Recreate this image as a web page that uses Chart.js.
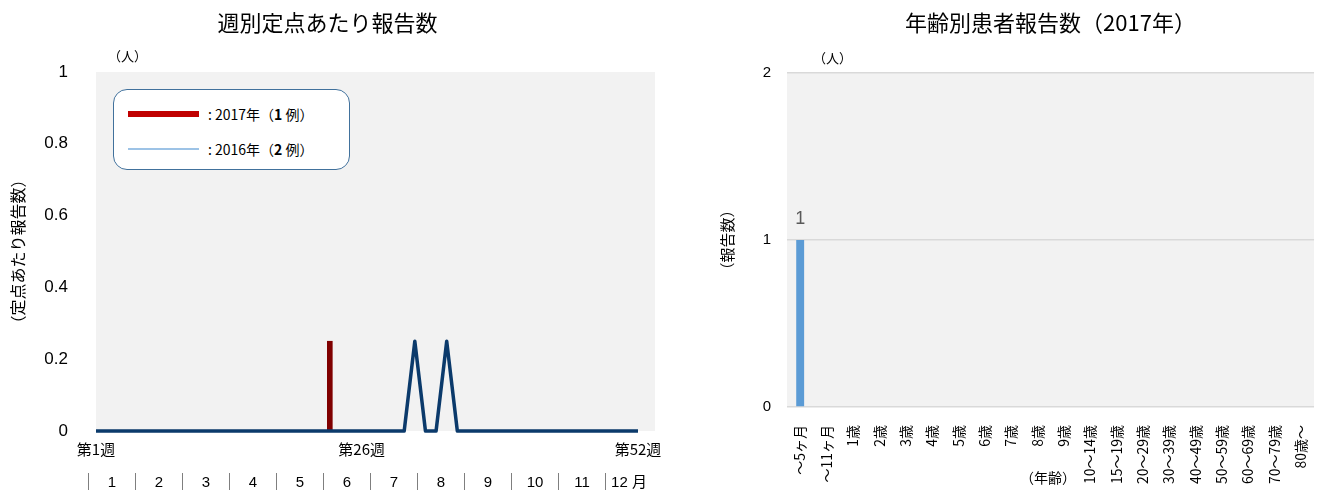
<!DOCTYPE html>
<html>
<head>
<meta charset="utf-8">
<script src="https://cdn.jsdelivr.net/npm/chart.js@4.4.0/dist/chart.umd.min.js"></script>
<style>
  body { margin: 0; background: #fff; font-family: "Noto Sans CJK JP", sans-serif; }
  #wrap { position: relative; width: 1328px; height: 490px; overflow: hidden; }
  .box { position: absolute; top: 0; height: 490px; }
  .txt { position: absolute; font-size: 13px; color: #000; white-space: nowrap; }
  #legend { position: absolute; left: 113px; top: 89px; width: 235px; height: 79px;
            border: 1.5px solid #41719c; border-radius: 14px; background: #fff; }
  .lrow { position: absolute; left: 14px; height: 16px; font-size: 14px; }
  .lrow span.sw { position: absolute; left: 0; width: 71px; }
  .lrow span.t { position: absolute; left: 80px; top: -4px; white-space: nowrap; }
  #months { position: absolute; left: 88px; top: 473px; display: flex; font-size: 15px;
            font-family: "Liberation Sans", "Noto Sans CJK JP", sans-serif; }
  #months div { width: 46px; border-left: 1px solid #7f7f7f; text-align: center; height: 18px; line-height: 18px; }
</style>
</head>
<body>
<div id="wrap">
  <div class="box" style="left:0;width:680px"><canvas id="weekly"></canvas></div>
  <div class="box" style="left:680px;width:648px"><canvas id="ages"></canvas></div>
  <div class="txt" style="left:108px;top:46px">（人）</div>
  <div class="txt" style="left:813px;top:48px">（人）</div>
  <div class="txt" style="left:1020px;top:467px;font-size:14px">（年齢）</div>
  <div id="legend">
    <div class="lrow" style="top:18px"><span class="sw" style="top:3px;height:6px;background:#c00000"></span><span class="t">: 2017年（<b>1</b> 例）</span></div>
    <div class="lrow" style="top:53px"><span class="sw" style="top:5px;height:2px;background:#9dc3e6"></span><span class="t">: 2016年（<b>2</b> 例）</span></div>
  </div>
  <div id="months"></div>
</div>
<script>
// weekly cases per sentinel site
const weeks = [1, 2, 3, 4, 5, 6, 7, 8, 9, 10, 11, 12, 13, 14, 15, 16, 17, 18, 19, 20, 21, 22, 23, 24, 25, 26,
               27, 28, 29, 30, 31, 32, 33, 34, 35, 36, 37, 38, 39, 40, 41, 42, 43, 44, 45, 46, 47, 48, 49, 50, 51, 52];
const rate2017 = [0, 0, 0, 0, 0, 0, 0, 0, 0, 0, 0, 0, 0, 0, 0, 0, 0, 0, 0, 0, 0, 0, 0.25, 0, 0, 0,
                  0, 0, 0, 0, 0, 0, 0, 0, 0, 0, 0, 0, 0, 0, 0, 0, 0, 0, 0, 0, 0, 0, 0, 0, 0, 0];
const rate2016 = [0, 0, 0, 0, 0, 0, 0, 0, 0, 0, 0, 0, 0, 0, 0, 0, 0, 0, 0, 0, 0, 0, 0, 0, 0, 0,
                  0, 0, 0, 0, 0.25, 0, 0, 0.25, 0, 0, 0, 0, 0, 0, 0, 0, 0, 0, 0, 0, 0, 0, 0, 0, 0, 0];
const weekTicks = [1, 26, 52];
const months = ['1', '2', '3', '4', '5', '6', '7', '8', '9', '10', '11', '12 月'];

// patients by age group
const ageGroups = ['～5ヶ月', '～11ヶ月', '1歳', '2歳', '3歳', '4歳', '5歳', '6歳', '7歳', '8歳', '9歳',
                   '10～14歳', '15～19歳', '20～29歳', '30～39歳', '40～49歳', '50～59歳', '60～69歳', '70～79歳', '80歳～'];
const ageCounts = [1, 0, 0, 0, 0, 0, 0, 0, 0, 0, 0, 0, 0, 0, 0, 0, 0, 0, 0, 0];

const numFont = '"Liberation Sans", "Noto Sans CJK JP", sans-serif';
const jpFont = '"Noto Sans CJK JP", sans-serif';

const monthRow = document.getElementById('months');
months.forEach(m => {
    const d = document.createElement('div');
    d.textContent = m;
    monthRow.appendChild(d);
});

const plotBg = {
    id: 'plotBg',
    beforeDraw(chart) {
        const a = chart.chartArea;
        chart.ctx.save();
        chart.ctx.fillStyle = '#f2f2f2';
        chart.ctx.fillRect(a.left, a.top, a.right - a.left, a.bottom - a.top);
        chart.ctx.restore();
    }
};

const barLabels = {
    id: 'barLabels',
    afterDatasetsDraw(chart) {
        const ctx = chart.ctx;
        const meta = chart.getDatasetMeta(0);
        ctx.save();
        ctx.fillStyle = '#595959';
        ctx.font = '18px ' + numFont;
        ctx.textAlign = 'center';
        ctx.textBaseline = 'bottom';
        meta.data.forEach((bar, i) => {
            const v = chart.data.datasets[0].data[i];
            if (v > 0) ctx.fillText(String(v), bar.x, bar.y - 12);
        });
        ctx.restore();
    }
};

Chart.defaults.color = '#000';
Chart.defaults.animation = false;

new Chart(document.getElementById('weekly'), {
    type: 'line',
    data: {
        datasets: [{
            type: 'line',
            label: '2016年',
            data: weeks.map((w, i) => ({ x: w, y: rate2016[i] })),
            borderColor: '#0b3a6b',
            borderWidth: 3.5,
            borderJoinStyle: 'round',
            pointRadius: 0,
            tension: 0,
            clip: false,
            order: 0,
        }, {
            type: 'bar',
            label: '2017年',
            // weeks with no report draw no bar
            data: weeks.map((w, i) => ({ x: w, y: rate2017[i] })).filter(p => p.y > 0),
            backgroundColor: '#800000',
            barThickness: 5,
            order: 1,
        }]
    },
    options: {
        responsive: true,
        maintainAspectRatio: false,
        layout: { autoPadding: false, padding: { left: 0, right: 25, top: 0, bottom: 0 } },
        scales: {
            x: {
                type: 'linear',
                offset: false,
                min: 1,
                max: 53.6,
                grid: { display: false },
                border: { display: false },
                afterBuildTicks(scale) { scale.ticks = weekTicks.map(v => ({ value: v })); },
                afterFit(scale) { scale.height = 59; },
                ticks: {
                    padding: 1,
                    maxRotation: 0,
                    font: { size: 15, family: jpFont },
                    callback: v => '第' + v + '週',
                },
            },
            y: {
                min: 0,
                max: 1,
                grid: { display: false },
                border: { display: false },
                afterFit(scale) { scale.width = 96; },
                ticks: {
                    stepSize: 0.2,
                    padding: 20,
                    font: { size: 17, family: numFont },
                    callback: v => String(Math.round(v * 10) / 10),
                },
                title: { display: true, text: '（定点あたり報告数）', font: { size: 16, family: jpFont }, padding: { top: 8 } },
            }
        },
        plugins: {
            legend: { display: false },
            tooltip: { enabled: false },
            title: {
                display: true,
                text: '週別定点あたり報告数',
                color: '#000',
                font: { size: 22, weight: 'normal', family: jpFont },
                padding: { top: 9, bottom: 36.6 },
            },
        },
    },
    plugins: [plotBg],
});

new Chart(document.getElementById('ages'), {
    type: 'bar',
    data: {
        labels: ageGroups,
        datasets: [{
            label: '報告数',
            data: ageCounts,
            backgroundColor: '#5b9bd5',
            barPercentage: 0.3,
            categoryPercentage: 1,
        }]
    },
    options: {
        responsive: true,
        maintainAspectRatio: false,
        layout: { autoPadding: false, padding: { left: 0, right: 0, top: 0, bottom: 0 } },
        scales: {
            x: {
                grid: { display: false },
                border: { display: false },
                afterFit(scale) { scale.height = 83; },
                ticks: {
                    autoSkip: false,
                    maxRotation: 90,
                    minRotation: 90,
                    padding: 10,
                    font: { size: 14, family: jpFont },
                },
            },
            y: {
                min: 0,
                max: 2,
                grid: { color: '#d9d9d9', lineWidth: 1.5, drawTicks: false },
                border: { display: false },
                afterFit(scale) { scale.width = 107; },
                ticks: { stepSize: 1, padding: 16, font: { size: 15, family: numFont } },
                title: { display: true, text: '（報告数）', font: { size: 15, family: jpFont }, padding: { top: 38 } },
            }
        },
        plugins: {
            legend: { display: false },
            tooltip: { enabled: false },
            title: {
                display: true,
                fullSize: false,
                text: '年齢別患者報告数（2017年）',
                color: '#000',
                font: { size: 22, weight: 'normal', family: jpFont },
                padding: { top: 9, bottom: 37.6 },
            },
        },
    },
    plugins: [plotBg, barLabels],
});
</script>
</body>
</html>
